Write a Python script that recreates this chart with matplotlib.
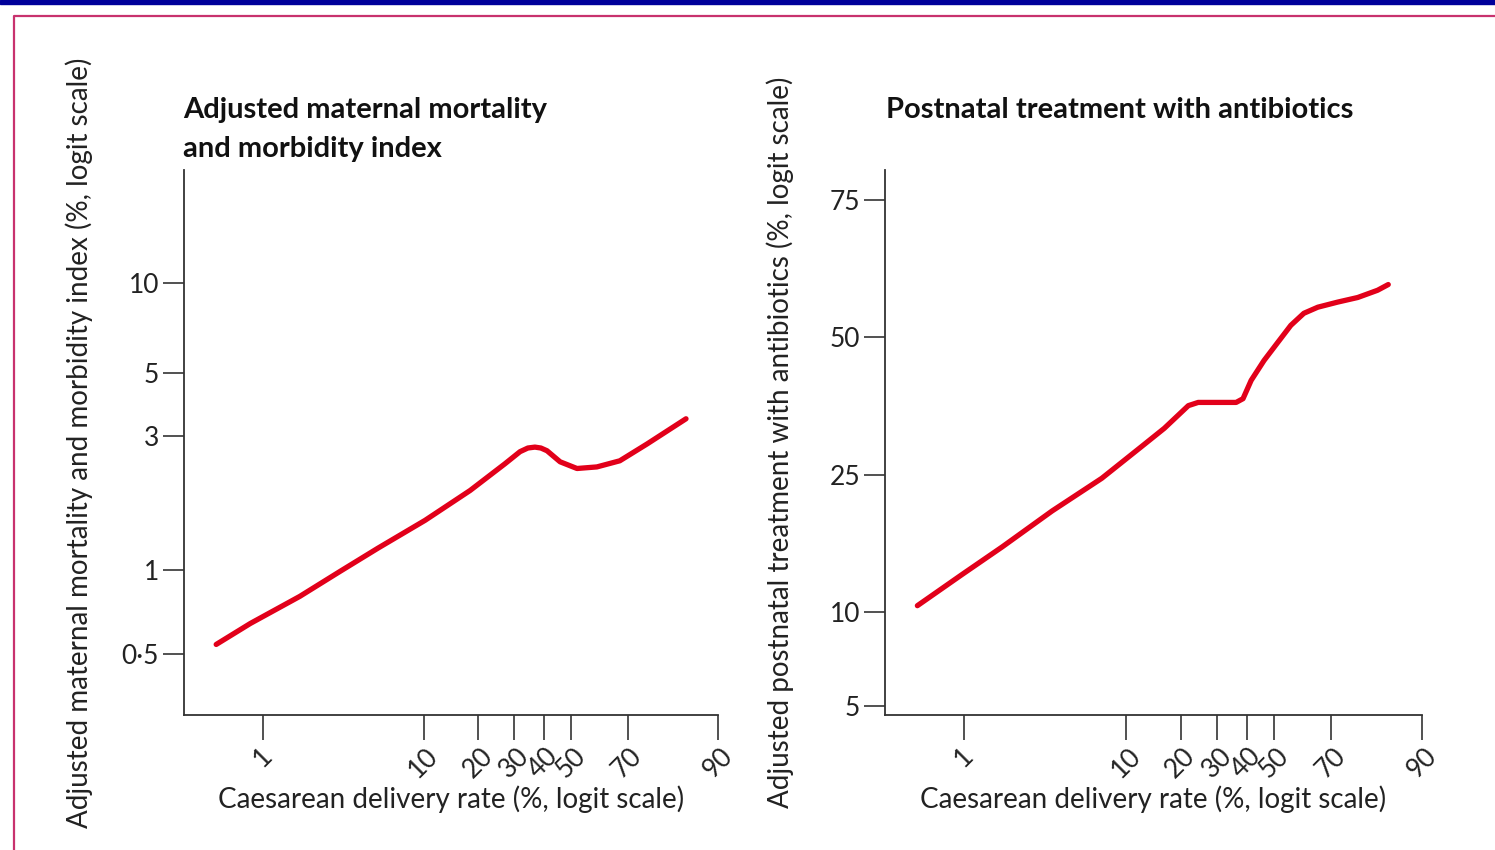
import matplotlib.pyplot as plt
from matplotlib.ticker import FixedLocator, FuncFormatter, NullLocator
from matplotlib.patches import Rectangle
from matplotlib.lines import Line2D

plt.rcParams["font.family"] = ["Lato", "DejaVu Sans"]

# Caesarean delivery rate (%) against the adjusted outcome (%)
cs_rate_mm = [0.50, 0.83, 1.72, 3.09, 5.32, 10.2, 18.2, 27.2, 31.9, 34.5,
              36.9, 39.0, 41.2, 46.0, 52.3, 59.6, 67.5, 75.7, 84.8]
mm_index = [0.54, 0.643, 0.805, 0.99, 1.20, 1.51, 1.93, 2.40, 2.65, 2.73,
            2.75, 2.73, 2.67, 2.44, 2.31, 2.34, 2.46, 2.82, 3.46]

cs_rate_ab = [0.50, 0.97, 1.74, 3.58, 7.2, 12.3, 16.4, 21.9, 24.5, 36.3,
              38.7, 41.6, 46.3, 51.4, 56.2, 60.9, 65.7, 72.0, 77.6, 82.3, 84.5]
antibiotics = [10.5, 13.1, 15.8, 20.0, 24.5, 29.5, 32.6, 36.7, 37.3, 37.3,
               38.0, 41.5, 45.4, 49.0, 52.4, 54.8, 56.0, 57.0, 57.9, 59.3, 60.4]

x_ticks = [1, 10, 20, 30, 40, 50, 70, 90]
y_ticks_mm = [0.5, 1, 3, 5, 10]
y_ticks_ab = [5, 10, 25, 50, 75]

red = "#e2001a"
axis_col = "#333333"
text_col = "#222222"

fig = plt.figure(figsize=(14.95, 8.5), dpi=100)

# page frame: blue rule on top, pink box around the panels
fig.patches.append(Rectangle((0, 0.9955), 1, 0.0045, transform=fig.transFigure,
                             color="#00009a", zorder=0))
fig.lines.append(Line2D([0.0094, 0.0094, 1.0], [0.0, 0.9812, 0.9812],
                        transform=fig.transFigure, color="#c8326e", lw=1.6))


def pct_label(v, pos):
    return ("%g" % (v * 100)).replace(".", "·")


def setup(ax, yticks, ylim, ylabel):
    ax.set_xscale("logit")
    ax.set_yscale("logit")
    ax.set_xlim(0.0031, 0.90)
    ax.set_ylim(*ylim)
    for s in ("top", "right"):
        ax.spines[s].set_visible(False)
    for s in ("left", "bottom"):
        ax.spines[s].set_color(axis_col)
        ax.spines[s].set_linewidth(1.3)
    ax.xaxis.set_major_locator(FixedLocator([t / 100 for t in x_ticks]))
    ax.yaxis.set_major_locator(FixedLocator([t / 100 for t in yticks]))
    ax.xaxis.set_minor_locator(NullLocator())
    ax.yaxis.set_minor_locator(NullLocator())
    ax.xaxis.set_major_formatter(FuncFormatter(pct_label))
    ax.yaxis.set_major_formatter(FuncFormatter(pct_label))
    ax.tick_params(axis="x", length=18, width=1.2, color=axis_col, labelsize=19,
                   labelcolor=text_col, pad=2)
    ax.tick_params(axis="y", length=15, width=1.2, color=axis_col, labelsize=19,
                   labelcolor=text_col, pad=3)
    for lab in ax.get_xticklabels():
        lab.set_rotation(45)
        lab.set_ha("center")
    ax.set_xlabel("Caesarean delivery rate (%, logit scale)", fontsize=20,
                  color=text_col)
    ax.xaxis.set_label_coords(0.5, -0.13)
    ax.set_ylabel(ylabel, fontsize=20, color=text_col)
    ax.yaxis.set_label_coords(-0.17, 0.5)


ax1 = fig.add_axes([0.1231, 0.1588, 0.3572, 0.6412])
setup(ax1, y_ticks_mm, (0.0030, 0.223),
      "Adjusted maternal mortality and morbidity index (%, logit scale)")
ax1.plot([c / 100 for c in cs_rate_mm], [m / 100 for m in mm_index],
         color=red, lw=3.8, solid_capstyle="round", solid_joinstyle="round")
fig.text(0.1225, 0.886, "Adjusted maternal mortality\nand morbidity index",
         fontsize=21, fontweight="bold", ha="left", va="top",
         linespacing=1.6, color="#111111")

ax2 = fig.add_axes([0.5920, 0.1588, 0.3592, 0.6412])
setup(ax2, y_ticks_ab, (0.0467, 0.792),
      "Adjusted postnatal treatment with antibiotics (%, logit scale)")
ax2.plot([c / 100 for c in cs_rate_ab], [a / 100 for a in antibiotics],
         color=red, lw=3.8, solid_capstyle="round", solid_joinstyle="round")
fig.text(0.5925, 0.886, "Postnatal treatment with antibiotics",
         fontsize=21, fontweight="bold", ha="left", va="top", color="#111111")

fig.savefig("out.png", dpi=100)
